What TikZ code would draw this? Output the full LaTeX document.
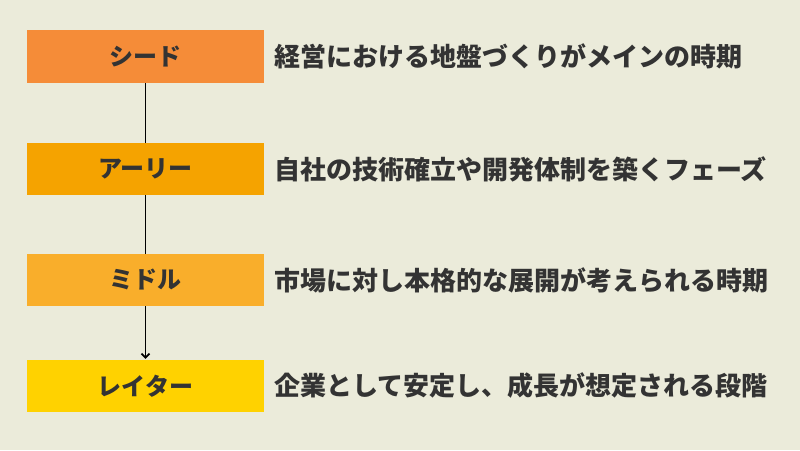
\documentclass[tikz,border=0pt]{standalone}
\usepackage{fontspec}
\newfontfamily\jp{Noto Sans CJK JP}
\usetikzlibrary{arrows.meta}
\definecolor{bg}{HTML}{EBEBDA}
\definecolor{txt}{HTML}{333333}
\definecolor{cA}{HTML}{F58C38}
\definecolor{cB}{HTML}{F5A300}
\definecolor{cC}{HTML}{F9AE2B}
\definecolor{cD}{HTML}{FFD200}
\begin{document}
\begin{tikzpicture}[x=1pt,y=1pt,
  stage/.style={minimum width=237pt,minimum height=52pt,inner sep=0pt,text=txt,
    font=\jp\bfseries\fontsize{24pt}{28pt}\selectfont},
  desc/.style={anchor=west,inner sep=0pt,text=txt,
    font=\jp\bfseries\fontsize{26pt}{30pt}\selectfont},
  conn/.style={draw=black,line width=1.8pt}]
\fill[bg] (0,0) rectangle (800,450);
\useasboundingbox (0,0) rectangle (800,450);
\node[stage,fill=cA,minimum height=53pt] (s1) at (145.5,393.5) {シード};
\node[stage,fill=cB] (s2) at (145.5,281) {アーリー};
\node[stage,fill=cC] (s3) at (145.5,170) {ミドル};
\node[stage,fill=cD] (s4) at (145.5,64) {レイター};
\node[desc] (d1) at (274,394) {経営における地盤づくりがメインの時期};
\node[desc] (d2) at (274,281) {自社の技術確立や開発体制を築くフェーズ};
\node[desc] (d3) at (274,170) {市場に対し本格的な展開が考えられる時期};
\node[desc] (d4) at (274,64) {企業として安定し、成長が想定される段階};
\draw[conn] (s1.south) -- (s2.north);
\draw[conn] (s2.south) -- (s3.north);
\draw[conn,-{Straight Barb[length=4pt,width=8pt]}] (s3.south) -- ([yshift=1pt]s4.north);
\end{tikzpicture}
\end{document}
